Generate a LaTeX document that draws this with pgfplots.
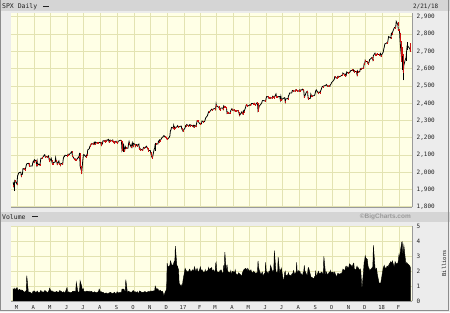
\documentclass[border=0pt]{standalone}
\usepackage{pgfplots}
\pgfplotsset{compat=1.18}
\usepackage{pgfplotstable}
\usepgfplotslibrary{dateplot}
\usepackage{fontspec}
\setmonofont{DejaVu Sans Mono}
\setsansfont{Liberation Sans}
\definecolor{outerbg}{HTML}{ECECEC}
\definecolor{stripc}{HTML}{D5D5D5}
\definecolor{plotbg}{HTML}{FFFFE6}
\definecolor{gridc}{HTML}{E3E3B2}
\definecolor{downred}{HTML}{CC1111}
\definecolor{framec}{HTML}{9A9A9A}
\definecolor{txt}{HTML}{222222}

\pgfplotstableread{
date c r v
2016-02-22 1945 nan 0.80
2016-02-23 1921 1921 0.75
2016-02-24 1929 nan 0.85
2016-02-25 1952 nan 0.75
2016-02-26 1948 1948 0.78
2016-02-29 1932 1932 0.90
2016-03-01 1978 nan 0.80
2016-03-02 1987 nan 0.72
2016-03-03 1994 nan 0.70
2016-03-04 1999 nan 0.78
2016-03-07 2001 nan 0.72
2016-03-08 1980 1980 0.74
2016-03-09 1989 nan 0.66
2016-03-10 1989 nan 0.72
2016-03-11 2022 nan 0.68
2016-03-14 2019 2019 0.58
2016-03-15 2015 2015 0.60
2016-03-16 2027 nan 0.66
2016-03-17 2040 nan 0.70
2016-03-18 2050 nan 1.70
2016-03-21 2052 nan 0.55
2016-03-22 2049 2049 0.58
2016-03-23 2036 2036 0.60
2016-03-24 2036 nan 0.58
2016-03-28 2037 nan 0.48
2016-03-29 2055 nan 0.62
2016-03-30 2064 nan 0.60
2016-03-31 2060 2060 0.68
2016-04-01 2073 nan 0.66
2016-04-04 2066 2066 0.56
2016-04-05 2045 2045 0.62
2016-04-06 2066 nan 0.58
2016-04-07 2041 2041 0.66
2016-04-08 2048 nan 0.55
2016-04-11 2042 2042 0.58
2016-04-12 2061 nan 0.66
2016-04-13 2082 nan 0.70
2016-04-14 2082 nan 0.60
2016-04-15 2081 2081 0.62
2016-04-18 2094 nan 0.58
2016-04-19 2100 nan 0.64
2016-04-20 2102 nan 0.70
2016-04-21 2091 2091 0.68
2016-04-22 2092 nan 0.66
2016-04-25 2088 2088 0.54
2016-04-26 2091 nan 0.58
2016-04-27 2095 nan 0.66
2016-04-28 2075 2075 0.70
2016-04-29 2065 2065 0.86
2016-05-02 2081 nan 0.62
2016-05-03 2063 2063 0.68
2016-05-04 2051 2051 0.66
2016-05-05 2050 2050 0.60
2016-05-06 2057 nan 0.62
2016-05-09 2059 nan 0.58
2016-05-10 2084 nan 0.60
2016-05-11 2064 2064 0.62
2016-05-12 2064 nan 0.64
2016-05-13 2047 2047 0.60
2016-05-16 2066 nan 0.58
2016-05-17 2047 2047 0.68
2016-05-18 2048 nan 0.70
2016-05-19 2040 2040 0.66
2016-05-20 2052 nan 0.64
2016-05-23 2048 2048 0.56
2016-05-24 2076 nan 0.60
2016-05-25 2090 nan 0.62
2016-05-26 2090 nan 0.56
2016-05-27 2099 nan 0.52
2016-05-31 2097 2097 0.90
2016-06-01 2099 nan 0.60
2016-06-02 2105 nan 0.58
2016-06-03 2100 2100 0.62
2016-06-06 2110 nan 0.52
2016-06-07 2112 nan 0.58
2016-06-08 2119 nan 0.56
2016-06-09 2116 2116 0.58
2016-06-10 2096 2096 0.64
2016-06-13 2079 2079 0.66
2016-06-14 2075 2075 0.64
2016-06-15 2072 2072 0.62
2016-06-16 2077 nan 0.68
2016-06-17 2071 2071 1.25
2016-06-20 2083 nan 0.60
2016-06-21 2089 nan 0.58
2016-06-22 2086 2086 0.60
2016-06-23 2113 nan 0.66
2016-06-24 2037 2037 1.36
2016-06-27 2001 2001 0.98
2016-06-28 2036 nan 0.78
2016-06-29 2071 nan 0.76
2016-06-30 2099 nan 0.82
2016-07-01 2103 nan 0.62
2016-07-05 2089 2089 0.64
2016-07-06 2100 nan 0.66
2016-07-07 2098 2098 0.60
2016-07-08 2130 nan 0.66
2016-07-11 2137 nan 0.60
2016-07-12 2152 nan 0.66
2016-07-13 2152 2152 0.60
2016-07-14 2163 nan 0.62
2016-07-15 2162 2162 0.64
2016-07-18 2167 nan 0.56
2016-07-19 2163 2163 0.58
2016-07-20 2173 nan 0.60
2016-07-21 2165 2165 0.62
2016-07-22 2175 nan 0.56
2016-07-25 2169 2169 0.56
2016-07-26 2170 nan 0.58
2016-07-27 2167 2167 0.62
2016-07-28 2170 nan 0.62
2016-07-29 2174 nan 0.80
2016-08-01 2171 2171 0.58
2016-08-02 2157 2157 0.62
2016-08-03 2164 nan 0.58
2016-08-04 2164 nan 0.55
2016-08-05 2183 nan 0.58
2016-08-08 2181 2181 0.50
2016-08-09 2182 nan 0.52
2016-08-10 2176 2176 0.52
2016-08-11 2186 nan 0.54
2016-08-12 2184 2184 0.50
2016-08-15 2191 nan 0.50
2016-08-16 2178 2178 0.54
2016-08-17 2182 nan 0.56
2016-08-18 2187 nan 0.52
2016-08-19 2184 2184 0.58
2016-08-22 2182 2182 0.48
2016-08-23 2187 nan 0.50
2016-08-24 2176 2176 0.54
2016-08-25 2173 2173 0.50
2016-08-26 2169 2169 0.58
2016-08-29 2180 nan 0.46
2016-08-30 2176 2176 0.52
2016-08-31 2171 2171 0.62
2016-09-01 2171 nan 0.58
2016-09-02 2180 nan 0.54
2016-09-06 2186 nan 0.58
2016-09-07 2186 nan 0.56
2016-09-08 2181 2181 0.58
2016-09-09 2128 2128 0.80
2016-09-12 2159 nan 0.80
2016-09-13 2127 2127 0.76
2016-09-14 2126 2126 0.66
2016-09-15 2148 nan 0.66
2016-09-16 2139 2139 1.43
2016-09-19 2140 nan 0.56
2016-09-20 2140 nan 0.56
2016-09-21 2164 nan 0.66
2016-09-22 2178 nan 0.62
2016-09-23 2165 2165 0.62
2016-09-26 2146 2146 0.56
2016-09-27 2160 nan 0.60
2016-09-28 2171 nan 0.64
2016-09-29 2151 2151 0.68
2016-09-30 2168 nan 0.70
2016-10-03 2161 2161 0.56
2016-10-04 2151 2151 0.62
2016-10-05 2160 nan 0.58
2016-10-06 2161 nan 0.56
2016-10-07 2154 2154 0.62
2016-10-10 2164 nan 0.50
2016-10-11 2136 2136 0.66
2016-10-12 2139 nan 0.56
2016-10-13 2132 2132 0.64
2016-10-14 2133 nan 0.60
2016-10-17 2127 2127 0.56
2016-10-18 2140 nan 0.58
2016-10-19 2144 nan 0.60
2016-10-20 2141 2141 0.58
2016-10-21 2141 nan 0.64
2016-10-24 2151 nan 0.56
2016-10-25 2143 2143 0.58
2016-10-26 2139 2139 0.62
2016-10-27 2133 2133 0.62
2016-10-28 2126 2126 0.64
2016-10-31 2126 nan 0.62
2016-11-01 2111 2111 0.68
2016-11-02 2098 2098 0.66
2016-11-03 2088 2088 0.64
2016-11-04 2085 2085 0.66
2016-11-07 2132 nan 0.68
2016-11-08 2140 nan 0.64
2016-11-09 2163 nan 1.00
2016-11-10 2167 nan 0.92
2016-11-11 2164 2164 0.80
2016-11-14 2164 nan 0.82
2016-11-15 2180 nan 0.72
2016-11-16 2177 2177 0.68
2016-11-17 2187 nan 0.66
2016-11-18 2182 2182 0.72
2016-11-21 2198 nan 0.62
2016-11-22 2203 nan 0.66
2016-11-23 2204 nan 0.60
2016-11-25 2213 nan 0.34
2016-11-28 2202 2202 0.66
2016-11-29 2204 nan 0.70
2016-11-30 2199 2199 0.90
2016-12-01 2191 2191 2.55
2016-12-02 2192 nan 2.30
2016-12-05 2204 nan 2.35
2016-12-06 2212 nan 2.40
2016-12-07 2241 nan 2.70
2016-12-08 2246 nan 2.60
2016-12-09 2260 nan 2.45
2016-12-12 2256 2256 2.40
2016-12-13 2272 nan 2.55
2016-12-14 2253 2253 2.65
2016-12-15 2262 nan 2.50
2016-12-16 2258 2258 3.70
2016-12-19 2263 nan 2.30
2016-12-20 2270 nan 2.35
2016-12-21 2265 2265 2.20
2016-12-22 2261 2261 2.10
2016-12-23 2264 nan 1.20
2016-12-27 2268 nan 0.95
2016-12-28 2250 2250 1.10
2016-12-29 2249 2249 1.00
2016-12-30 2239 2239 1.35
2017-01-03 2258 nan 2.20
2017-01-04 2271 nan 2.10
2017-01-05 2270 2270 2.05
2017-01-06 2277 nan 2.00
2017-01-09 2269 2269 1.95
2017-01-10 2269 nan 2.05
2017-01-11 2275 nan 2.15
2017-01-12 2270 2270 2.10
2017-01-13 2275 nan 1.95
2017-01-17 2268 2268 2.10
2017-01-18 2272 nan 2.00
2017-01-19 2264 2264 2.05
2017-01-20 2272 nan 2.30
2017-01-23 2266 2266 1.95
2017-01-24 2281 nan 2.10
2017-01-25 2298 nan 2.20
2017-01-26 2297 2297 2.05
2017-01-27 2295 2295 1.90
2017-01-30 2281 2281 2.15
2017-01-31 2279 2279 2.30
2017-02-01 2280 nan 2.10
2017-02-02 2281 nan 2.05
2017-02-03 2297 nan 2.10
2017-02-06 2293 2293 1.90
2017-02-07 2293 nan 1.95
2017-02-08 2295 nan 1.95
2017-02-09 2307 nan 2.10
2017-02-10 2316 nan 1.95
2017-02-13 2328 nan 2.05
2017-02-14 2338 nan 2.05
2017-02-15 2350 nan 2.25
2017-02-16 2347 2347 2.10
2017-02-17 2351 nan 2.15
2017-02-21 2366 nan 2.25
2017-02-22 2363 2363 1.95
2017-02-23 2364 nan 2.05
2017-02-24 2367 nan 2.10
2017-02-27 2370 nan 1.90
2017-02-28 2364 2364 2.50
2017-03-01 2396 nan 2.60
2017-03-02 2382 2382 2.10
2017-03-03 2383 nan 1.95
2017-03-06 2376 2376 1.95
2017-03-07 2369 2369 1.90
2017-03-08 2363 2363 2.05
2017-03-09 2365 nan 2.05
2017-03-10 2373 nan 2.10
2017-03-13 2373 nan 1.85
2017-03-14 2365 2365 1.90
2017-03-15 2385 nan 2.40
2017-03-16 2381 2381 2.05
2017-03-17 2378 2378 3.30
2017-03-20 2374 2374 1.80
2017-03-21 2344 2344 2.45
2017-03-22 2349 nan 2.10
2017-03-23 2345 2345 1.95
2017-03-24 2344 2344 1.95
2017-03-27 2341 2341 1.90
2017-03-28 2359 nan 2.05
2017-03-29 2362 nan 1.85
2017-03-30 2368 nan 1.85
2017-03-31 2363 2363 2.00
2017-04-03 2359 2359 1.95
2017-04-04 2360 nan 1.85
2017-04-05 2353 2353 2.10
2017-04-06 2357 nan 1.90
2017-04-07 2355 2355 1.80
2017-04-10 2357 nan 1.75
2017-04-11 2353 2353 1.90
2017-04-12 2344 2344 1.85
2017-04-13 2329 2329 1.85
2017-04-17 2349 nan 1.65
2017-04-18 2342 2342 1.85
2017-04-19 2338 2338 1.95
2017-04-20 2355 nan 2.05
2017-04-21 2349 2349 2.10
2017-04-24 2374 nan 2.20
2017-04-25 2388 nan 2.15
2017-04-26 2387 2387 2.15
2017-04-27 2389 nan 2.00
2017-04-28 2384 2384 2.20
2017-05-01 2388 nan 2.00
2017-05-02 2391 nan 2.05
2017-05-03 2388 2388 2.05
2017-05-04 2389 nan 2.10
2017-05-05 2399 nan 1.95
2017-05-08 2399 nan 1.90
2017-05-09 2397 2397 2.00
2017-05-10 2400 nan 1.90
2017-05-11 2394 2394 1.95
2017-05-12 2390 2390 1.85
2017-05-15 2402 nan 1.90
2017-05-16 2401 2401 1.95
2017-05-17 2357 2357 2.70
2017-05-18 2365 nan 2.30
2017-05-19 2382 nan 2.10
2017-05-22 2394 nan 1.80
2017-05-23 2398 nan 1.80
2017-05-24 2404 nan 1.90
2017-05-25 2415 nan 1.95
2017-05-26 2416 nan 1.70
2017-05-30 2413 2413 1.90
2017-05-31 2412 2412 2.60
2017-06-01 2431 nan 2.00
2017-06-02 2439 nan 2.00
2017-06-05 2437 2437 1.80
2017-06-06 2429 2429 2.00
2017-06-07 2433 nan 1.95
2017-06-08 2434 nan 2.05
2017-06-09 2432 2432 2.40
2017-06-12 2430 2430 2.05
2017-06-13 2440 nan 1.95
2017-06-14 2437 2437 2.00
2017-06-15 2433 2433 2.10
2017-06-16 2433 nan 3.40
2017-06-19 2454 nan 1.95
2017-06-20 2437 2437 1.95
2017-06-21 2436 2436 1.90
2017-06-22 2434 2434 1.85
2017-06-23 2438 nan 2.95
2017-06-26 2439 nan 1.80
2017-06-27 2419 2419 2.10
2017-06-28 2440 nan 1.95
2017-06-29 2420 2420 2.20
2017-06-30 2423 nan 1.95
2017-07-03 2429 nan 1.25
2017-07-05 2432 nan 1.90
2017-07-06 2409 2409 2.00
2017-07-07 2425 nan 1.75
2017-07-10 2427 nan 1.70
2017-07-11 2425 2425 1.80
2017-07-12 2443 nan 1.90
2017-07-13 2447 nan 1.75
2017-07-14 2459 nan 1.75
2017-07-17 2459 nan 1.70
2017-07-18 2460 nan 1.80
2017-07-19 2473 nan 1.85
2017-07-20 2473 nan 1.85
2017-07-21 2472 2472 2.05
2017-07-24 2470 2470 1.75
2017-07-25 2477 nan 1.90
2017-07-26 2478 nan 1.85
2017-07-27 2475 2475 2.60
2017-07-28 2472 2472 1.90
2017-07-31 2470 2470 2.05
2017-08-01 2477 nan 2.00
2017-08-02 2478 nan 2.00
2017-08-03 2472 2472 1.85
2017-08-04 2476 nan 1.85
2017-08-07 2481 nan 1.70
2017-08-08 2475 2475 1.95
2017-08-09 2474 2474 1.95
2017-08-10 2438 2438 2.40
2017-08-11 2441 nan 2.05
2017-08-14 2466 nan 1.80
2017-08-15 2465 2465 1.70
2017-08-16 2468 nan 1.80
2017-08-17 2430 2430 2.20
2017-08-18 2426 2426 2.25
2017-08-21 2428 nan 1.80
2017-08-22 2453 nan 1.65
2017-08-23 2444 2444 1.55
2017-08-24 2439 2439 1.60
2017-08-25 2443 nan 1.55
2017-08-28 2444 nan 1.50
2017-08-29 2446 nan 1.65
2017-08-30 2457 nan 1.60
2017-08-31 2472 nan 2.05
2017-09-01 2477 nan 1.60
2017-09-05 2458 2458 2.00
2017-09-06 2465 nan 1.90
2017-09-07 2465 nan 1.85
2017-09-08 2461 2461 1.85
2017-09-11 2488 nan 1.95
2017-09-12 2496 nan 1.90
2017-09-13 2498 nan 1.80
2017-09-14 2496 2496 1.85
2017-09-15 2500 nan 3.00
2017-09-18 2503 nan 1.85
2017-09-19 2506 nan 1.80
2017-09-20 2508 nan 1.95
2017-09-21 2501 2501 1.80
2017-09-22 2502 nan 1.75
2017-09-25 2497 2497 1.95
2017-09-26 2497 nan 1.85
2017-09-27 2507 nan 2.05
2017-09-28 2510 nan 1.80
2017-09-29 2519 nan 1.95
2017-10-02 2529 nan 1.95
2017-10-03 2534 nan 1.85
2017-10-04 2537 nan 1.85
2017-10-05 2552 nan 1.95
2017-10-06 2549 2549 1.80
2017-10-09 2545 2545 1.60
2017-10-10 2551 nan 1.85
2017-10-11 2556 nan 1.85
2017-10-12 2551 2551 1.85
2017-10-13 2553 nan 1.80
2017-10-16 2557 nan 1.85
2017-10-17 2560 nan 1.85
2017-10-18 2562 nan 1.90
2017-10-19 2562 2562 1.95
2017-10-20 2575 nan 2.15
2017-10-23 2565 2565 2.05
2017-10-24 2569 nan 2.10
2017-10-25 2557 2557 2.30
2017-10-26 2560 nan 2.15
2017-10-27 2581 nan 2.35
2017-10-30 2573 2573 2.20
2017-10-31 2575 nan 2.30
2017-11-01 2579 nan 2.50
2017-11-02 2580 nan 2.40
2017-11-03 2588 nan 2.45
2017-11-06 2591 nan 2.30
2017-11-07 2590 2590 2.40
2017-11-08 2594 nan 2.50
2017-11-09 2584 2584 2.55
2017-11-10 2582 2582 2.15
2017-11-13 2585 nan 2.10
2017-11-14 2579 2579 2.25
2017-11-15 2565 2565 2.35
2017-11-16 2586 nan 2.20
2017-11-17 2579 2579 2.25
2017-11-20 2583 nan 2.05
2017-11-21 2599 nan 2.15
2017-11-22 2597 2597 1.95
2017-11-24 2603 nan 0.75
2017-11-27 2602 2602 2.05
2017-11-28 2628 nan 2.60
2017-11-29 2627 2627 2.75
2017-11-30 2648 nan 3.05
2017-12-01 2642 2642 2.90
2017-12-04 2640 2640 2.80
2017-12-05 2629 2629 2.40
2017-12-06 2630 nan 2.25
2017-12-07 2637 nan 2.20
2017-12-08 2652 nan 2.05
2017-12-11 2660 nan 2.15
2017-12-12 2664 nan 2.20
2017-12-13 2663 2663 2.25
2017-12-14 2652 2652 2.30
2017-12-15 2676 nan 3.75
2017-12-18 2690 nan 2.25
2017-12-19 2681 2681 2.10
2017-12-20 2679 2679 2.15
2017-12-21 2684 nan 2.20
2017-12-22 2683 2683 1.85
2017-12-26 2681 2681 1.10
2017-12-27 2683 nan 1.20
2017-12-28 2688 nan 1.10
2017-12-29 2674 2674 1.30
2018-01-02 2695 nan 2.20
2018-01-03 2713 nan 2.30
2018-01-04 2724 nan 2.40
2018-01-05 2743 nan 2.25
2018-01-08 2748 nan 2.20
2018-01-09 2751 nan 2.35
2018-01-10 2748 2748 2.35
2018-01-11 2767 nan 2.25
2018-01-12 2786 nan 2.40
2018-01-16 2777 2777 2.65
2018-01-17 2803 nan 2.60
2018-01-18 2798 2798 2.55
2018-01-19 2810 nan 2.70
2018-01-22 2833 nan 2.30
2018-01-23 2839 nan 2.40
2018-01-24 2838 2838 2.65
2018-01-25 2839 nan 2.55
2018-01-26 2873 nan 2.50
2018-01-29 2854 2854 2.55
2018-01-30 2823 2823 2.75
2018-01-31 2824 nan 3.10
2018-02-01 2822 2822 2.75
2018-02-02 2762 2762 3.20
2018-02-05 2649 2649 3.95
2018-02-06 2695 nan 4.00
2018-02-07 2682 2682 3.10
2018-02-08 2581 2581 3.40
2018-02-09 2620 nan 3.75
2018-02-12 2656 nan 2.75
2018-02-13 2662 nan 2.40
2018-02-14 2698 nan 2.60
2018-02-15 2731 nan 2.55
2018-02-16 2732 nan 2.50
2018-02-20 2716 2716 2.35
2018-02-21 2701 2701 2.25
}\spx

\pgfplotstableread{
date y
2016-02-24 1891
2016-02-24 1933
2016-02-24 nan
2016-09-12 2119
2016-09-12 2163
2016-09-12 nan
2016-11-09 2125
2016-11-09 2170
2016-11-09 nan
2018-02-06 2593
2018-02-06 2702
2018-02-06 nan
2018-02-09 2533
2018-02-09 2639
2018-02-09 nan
2018-02-14 2647
2018-02-14 2702
2018-02-14 nan
2018-02-15 2710
2018-02-15 2731
2018-02-15 nan
2018-02-16 2725
2018-02-16 2754
}\hlup

\pgfplotstableread{
date y
2016-06-24 2032
2016-06-24 2113
2016-06-24 nan
2016-06-27 1992
2016-06-27 2038
2016-06-27 nan
2016-09-09 2127
2016-09-09 2179
2016-09-09 nan
2017-05-17 2357
2017-05-17 2400
2017-05-17 nan
2018-01-29 2850
2018-01-29 2870
2018-01-29 nan
2018-02-02 2759
2018-02-02 2808
2018-02-02 nan
2018-02-05 2638
2018-02-05 2763
2018-02-05 nan
2018-02-07 2681
2018-02-07 2727
2018-02-07 nan
2018-02-08 2580
2018-02-08 2686
2018-02-08 nan
2018-02-21 2699
2018-02-21 2747
}\hldn

\pgfplotsset{
  bcaxis/.style={
    scale only axis,
    width=401bp,
    date coordinates in=x,
    xmin=2016-02-18, xmax=2018-02-24,
    xtick={2016-03-01,2016-04-01,2016-05-01,2016-06-01,2016-07-01,2016-08-01,2016-09-01,2016-10-01,2016-11-01,2016-12-01,2017-01-01,2017-02-01,2017-03-01,2017-04-01,2017-05-01,2017-06-01,2017-07-01,2017-08-01,2017-09-01,2017-10-01,2017-11-01,2017-12-01,2018-01-01,2018-02-01},
    axis background/.style={fill=plotbg},
    grid=major,
    major grid style={draw=gridc, line width=0.9pt},
    major tick length=0pt,
    axis x line*=bottom,
    axis y line*=right,
    axis line style={draw=framec, line width=0.7pt},
    tick label style={font=\fontsize{6}{6}\selectfont\ttfamily, text=txt},
    /pgf/number format/assume math mode=true,
    /pgf/number format/1000 sep={,},
    yticklabel style={anchor=west, inner sep=0pt, xshift=4.5bp},
    clip=true,
  }
}

\begin{document}
\begin{tikzpicture}
\fill[outerbg] (0,0) rectangle (450bp,312bp);
\fill[stripc] (0,301bp) rectangle (450bp,312bp);
\fill[stripc] (0,90.3bp) rectangle (450bp,100.3bp);
\draw[black!45, line width=0.8pt] (0.8bp,312bp) -- (0.8bp,2.3bp) -- (448bp,2.3bp) -- (448bp,312bp);
\node[anchor=west, inner sep=0pt, font=\fontsize{6.5}{7}\selectfont\ttfamily, text=txt] at (2bp,306bp) {SPX Daily};
\fill[txt] (43bp,305.6bp) rectangle (49bp,306.6bp);
\node[anchor=east, inner sep=0pt, font=\fontsize{6}{7}\selectfont\ttfamily, text=txt] at (438.5bp,305.5bp) {2/21/18};
\node[anchor=west, inner sep=0pt, font=\fontsize{6.5}{7}\selectfont\ttfamily, text=txt] at (2bp,95.5bp) {Volume};
\fill[txt] (32bp,95.1bp) rectangle (38bp,96.1bp);
\node[anchor=east, inner sep=0pt, font=\fontsize{6.5}{7}\selectfont\sffamily\bfseries, text=black!40] at (411bp,95.3bp) {\textcopyright BigCharts.com};
\node[rotate=90, inner sep=0pt, font=\fontsize{5.5}{6}\selectfont\ttfamily, text=txt] at (444bp,49bp) {Billions};

\begin{axis}[bcaxis,
  at={(11bp,105.5bp)}, anchor=south west,
  height=193.5bp,
  ymin=1800, ymax=2920,
  ytick={1800,1900,2000,2100,2200,2300,2400,2500,2600,2700,2800,2900},
  xticklabels={},
]
\addplot[black, line width=0.8pt] table[x=date, y=c] {\spx};
\addplot[only marks, mark=|, mark size=1.0pt, downred, mark options={line width=0.55pt}] table[x=date, y=r] {\spx};
\addplot[black, line width=0.7pt, unbounded coords=jump] table[x=date, y=y] {\hlup};
\addplot[downred, line width=0.7pt, unbounded coords=jump] table[x=date, y=y] {\hldn};
\end{axis}

\begin{axis}[bcaxis,
  at={(11bp,11.5bp)}, anchor=south west,
  height=74.5bp,
  ymin=0, ymax=5.03,
  ytick={0,1,2,3,4,5},
  xticklabels={M,A,M,J,J,A,S,O,N,D,17,F,M,A,M,J,J,A,S,O,N,D,18,F},
  xticklabel style={anchor=north, inner sep=0pt, yshift=-4bp, xshift=-1bp, font=\fontsize{5.5}{6}\selectfont\ttfamily},
]
\addplot[fill=black, draw=black, line width=0.4pt] table[x=date, y=v] {\spx} \closedcycle;
\end{axis}
\end{tikzpicture}
\end{document}
